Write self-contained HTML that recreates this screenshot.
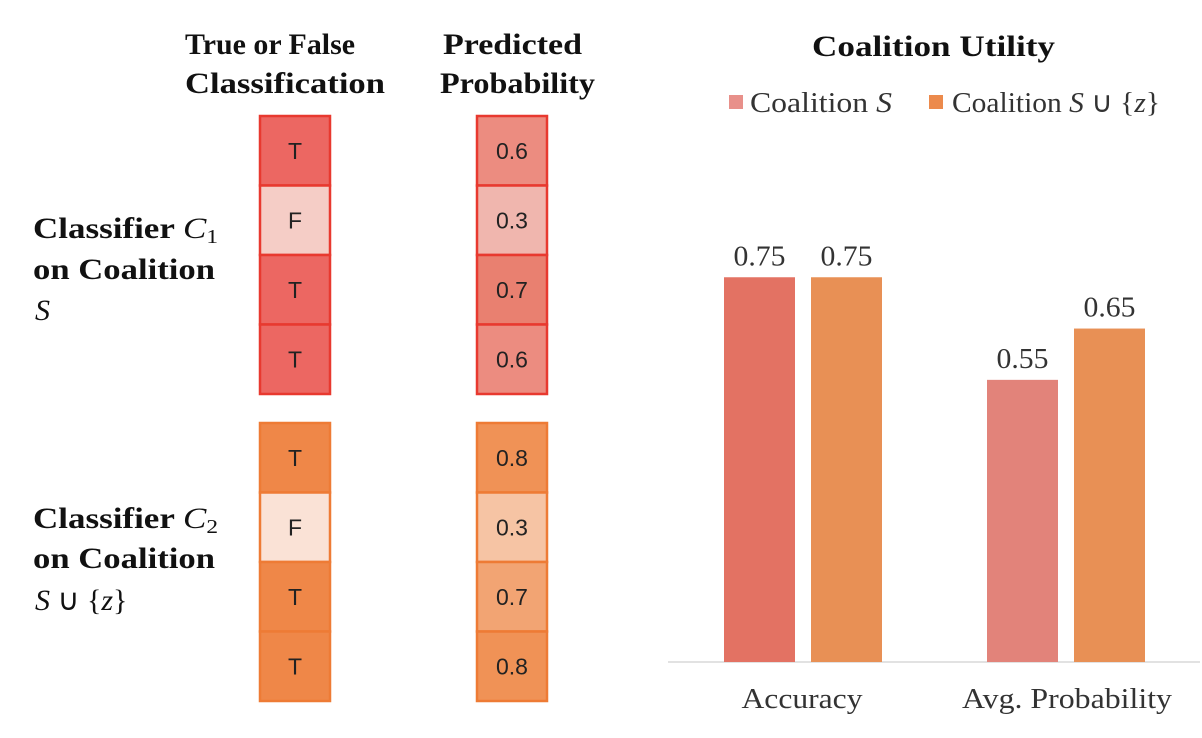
<!DOCTYPE html>
<html><head><meta charset="utf-8"><style>
html,body{margin:0;padding:0;background:#fff;}
svg{display:block;}
.t{font-family:"Liberation Serif",serif;font-weight:bold;font-size:30px;fill:#111;}
.c{font-family:"Liberation Sans",sans-serif;font-size:23px;fill:#222;}
.s{font-family:"Liberation Serif",serif;font-size:29px;fill:#333;}
</style></head><body>
<svg id="fig" width="1202" height="738" viewBox="0 0 1202 738">
<text class="t" x="185" y="54" textLength="170" lengthAdjust="spacingAndGlyphs">True or False</text>
<text class="t" x="185" y="93" textLength="200" lengthAdjust="spacingAndGlyphs">Classification</text>
<text class="t" x="443" y="54" textLength="139" lengthAdjust="spacingAndGlyphs">Predicted</text>
<text class="t" x="440" y="93" textLength="155" lengthAdjust="spacingAndGlyphs">Probability</text>
<g>
<text class="t" x="33" y="238" textLength="185" lengthAdjust="spacingAndGlyphs">Classifier <tspan font-weight="normal" font-style="italic">C</tspan><tspan font-weight="normal" font-size="20" dy="5">1</tspan></text>
<text class="t" x="33" y="279" textLength="182" lengthAdjust="spacingAndGlyphs">on Coalition</text>
<text class="t" x="35" y="320" style="font-weight:normal;font-style:italic">S</text>
</g>
<g>
<text class="t" x="33" y="528" textLength="185" lengthAdjust="spacingAndGlyphs">Classifier <tspan font-weight="normal" font-style="italic">C</tspan><tspan font-weight="normal" font-size="20" dy="5">2</tspan></text>
<text class="t" x="33" y="568" textLength="182" lengthAdjust="spacingAndGlyphs">on Coalition</text>
<text class="t" x="35" y="610" style="font-weight:normal"><tspan font-style="italic">S</tspan> ∪ {<tspan font-style="italic">z</tspan>}</text>
</g>
<g id="cells"></g>
<text class="t" x="812" y="56" textLength="243" lengthAdjust="spacingAndGlyphs">Coalition Utility</text>
<g>
<rect x="729" y="95" width="14" height="14" fill="#e8908a"/>
<text class="s" x="750" y="112" textLength="142" lengthAdjust="spacingAndGlyphs">Coalition <tspan font-style="italic">S</tspan></text>
<rect x="929" y="95" width="14" height="14" fill="#ec8a4c"/>
<text class="s" x="952" y="112" textLength="208" lengthAdjust="spacingAndGlyphs">Coalition <tspan font-style="italic">S</tspan> ∪ {<tspan font-style="italic">z</tspan>}</text>
</g>
<line x1="668" y1="662" x2="1200" y2="662" stroke="#d9d9d9" stroke-width="1.5"/>
<g id="bars"></g>
</svg>
<script>
const tf1 = ["T","F","T","T"];
const prob1 = [0.6,0.3,0.7,0.6];
const tf2 = ["T","F","T","T"];
const prob2 = [0.8,0.3,0.7,0.8];
const categories = ["Accuracy","Avg. Probability"];
const seriesS = [0.75,0.55];
const seriesSZ = [0.75,0.65];
const NS="http://www.w3.org/2000/svg";
function mk(tag,attrs,parent){const e=document.createElementNS(NS,tag);for(const k in attrs)e.setAttribute(k,attrs[k]);parent.appendChild(e);return e;}
const cells=document.getElementById('cells');
const red={border:"#e8392f",T:"#ec6762",F:"#f5cdc6",p:{0.6:"#ec8c80",0.3:"#f0b6ae",0.7:"#e98070",0.8:"#e8786a"}};
const ora={border:"#ee7b35",T:"#ef8748",F:"#fae2d6",p:{0.8:"#f09256",0.3:"#f6c4a4",0.7:"#f2a473",0.6:"#f3b084"}};
function column(vals,x,y0,pal,isProb,name){
  const h=69.5;
  vals.forEach((v,i)=>{
    const y=y0+i*h;
    const r=mk('rect',{x:x,y:y,width:70,height:h,fill:isProb?pal.p[v]:pal[v],stroke:pal.border,'stroke-width':2.5},cells);
    
    
    const t=mk('text',{x:x+35,y:y+h/2+8,'text-anchor':'middle',class:'c'},cells);
    t.textContent=isProb?v.toFixed(1):v;
    
    
  });
}
column(tf1,260,116,red,false,'c1-tf');
column(prob1,477,116,red,true,'c1-prob');
column(tf2,260,423,ora,false,'c2-tf');
column(prob2,477,423,ora,true,'c2-prob');
const y0=662, scale=513;
function yv(v){return y0-v*scale;}
const groupX=[803,1066], bw=71, gap=16;
const labelX=[802,1067], labelW=[121,210];
const bars=document.getElementById('bars');
categories.forEach((c,i)=>{
  const cols=[i===0?"#e37263":"#e2837a","#e89055"];
  [seriesS[i],seriesSZ[i]].forEach((v,j)=>{
    const x=groupX[i]-bw-gap/2+j*(bw+gap);
    const r=mk('rect',{x:x,y:yv(v),width:bw,height:y0-yv(v),fill:cols[j]},bars);
    
    
    const t=mk('text',{x:x+bw/2,y:yv(v)-12,'text-anchor':'middle',class:'s',textLength:52,lengthAdjust:'spacingAndGlyphs'},bars);
    t.textContent=v.toFixed(2);
    
    
  });
  const l=mk('text',{x:labelX[i]-labelW[i]/2,y:708,class:'s',textLength:labelW[i],lengthAdjust:'spacingAndGlyphs'},bars);
  l.textContent=c;
  
  
});
</script>
</body></html>
